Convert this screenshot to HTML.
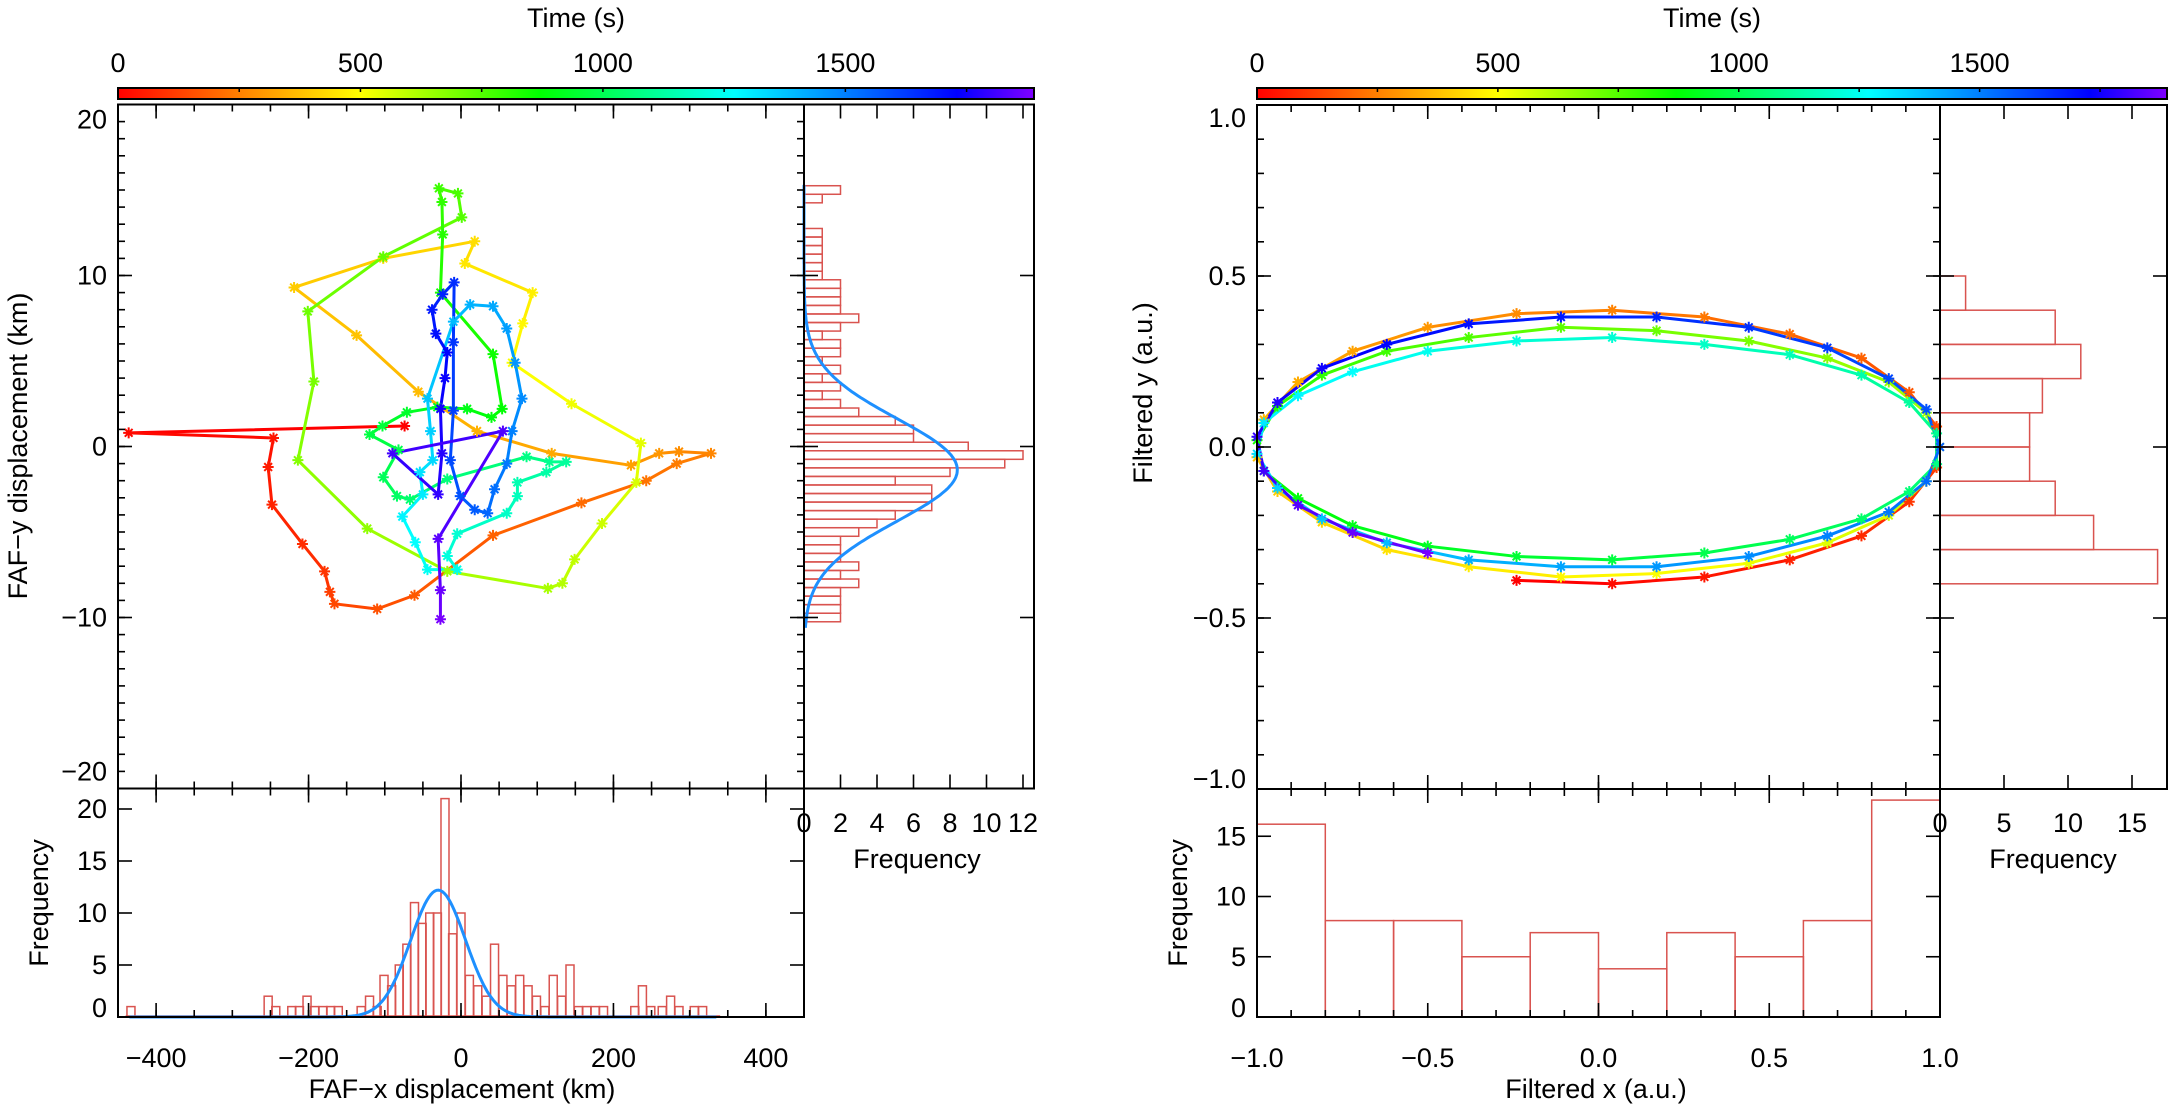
<!DOCTYPE html>
<html><head><meta charset="utf-8"><style>
html,body{margin:0;padding:0;background:#fff;}
svg{display:block;font-family:"Liberation Sans",sans-serif;}
</style></head><body>
<svg id="chart" width="2169" height="1111" viewBox="0 0 2169 1111" xmlns="http://www.w3.org/2000/svg">
<defs>
<linearGradient id="cbgrad" x1="0" x2="1" y1="0" y2="0">
<stop offset="0" stop-color="#ff0000"/><stop offset="0.1323" stop-color="#ff8000"/><stop offset="0.2647" stop-color="#ffff00"/><stop offset="0.4606" stop-color="#00ff00"/><stop offset="0.6723" stop-color="#00ffff"/><stop offset="0.9158" stop-color="#0000ff"/><stop offset="1" stop-color="#8000ff"/>
</linearGradient>
</defs>
<g id="left"></g>
<g id="right"></g>
</svg>
<script>
// ---------- DATA: left panel (FAF displacement trajectory) ----------
const trajX = [-74,-436,-246,-253,-248,-208,-179,-172,-166,-110,-61,42,158,243,283,328,286,260,223,119,21,-56,-137,-219,-102,18,5,94,81,67,145,236,230,185,149,133,114,-18,-123,-214,-193,-201,-102,1,-4,-29,-25,-24,-27,42,54,40,8,-31,-71,-103,-120,-82,-102,-84,-67,-18,86,116,138,112,74,74,60,-5,-18,-5,-44,-60,-77,-50,-54,-37,-40,-44,-10,12,42,60,71,80,67,60,44,35,18,-1,-14,-10,-10,-9,-24,-38,-33,-18,-21,-27,-25,-30,-90,55,-30,-27,-27];
const trajY = [1.2,0.8,0.5,-1.2,-3.4,-5.7,-7.3,-8.5,-9.2,-9.5,-8.7,-5.2,-3.3,-2.0,-1.0,-0.4,-0.3,-0.4,-1.1,-0.4,0.9,3.2,6.5,9.3,11.0,12.0,10.7,9.0,7.2,4.9,2.5,0.2,-2.1,-4.5,-6.6,-8.0,-8.3,-7.3,-4.8,-0.8,3.8,7.9,11.1,13.4,14.8,15.1,14.3,12.4,9.0,5.4,2.2,1.7,2.2,2.3,2.0,1.2,0.7,-0.2,-1.8,-2.9,-3.1,-1.9,-0.6,-0.9,-0.9,-1.5,-2.1,-2.9,-3.9,-5.1,-6.4,-7.2,-7.2,-5.6,-4.1,-2.8,-1.5,-0.8,0.9,2.8,7.3,8.3,8.2,6.9,4.9,2.8,0.9,-1.0,-2.5,-3.9,-3.7,-2.9,-0.8,2.1,6.1,9.6,8.9,8.0,6.6,5.5,4.0,2.2,-0.4,-2.8,-0.4,0.9,-5.4,-8.4,-10.1];
const trajDt = 17.4; // seconds between samples
const xHistCenters = [-433,-253,-243,-222,-212,-202,-192,-181,-171,-161,-131,-120,-110,-101,-91,-81,-71,-61,-51,-41,-31,-21,-11,0,11,22,33,44,55,66,77,88,99,110,121,132,143,154,165,176,187,228,238,249,264,275,286,306,317];
const xHistCounts  = [1,2,1,1,1,2,1,1,1,1,1,2,1,4,3,5,7,11,9,10,10,21,8,10,4,3,2,7,4,3,4,3,2,1,4,2,5,1,1,1,1,1,3,1,1,2,1,1,1];
const xHistWidth = 10.5;
const xFit = [12.2, -30, 36];          // amplitude, mean, sigma
const xFitRange = [-435, 335];
const yHistTop = 15.25, yHistWidth = 0.5;
const yHistCounts = [2,1,0,0,0,1,1,1,1,1,1,2,2,2,2,3,2,1,2,2,1,2,1,2,1,2,3,5,6,6,9,12,11,8,5,7,7,7,5,4,3,2,2,2,3,2,3,2,2,2,2];
const yFit = [8.4, -1.37, 3.0];
const yFitRange = [-10.6, 15.3];
const leftXTicks = [-400,-200,0,200,400];
const leftYTicks = [-20,-10,0,10,20];
const leftFreqTicksB = [0,5,10,15,20];
const leftFreqTicksR = [0,2,4,6,8,10,12];
// ---------- DATA: right panel (filtered ellipse) ----------
const ellX = [-0.24,0.04,0.31,0.56,0.77,0.91,0.99,0.99,0.91,0.77,0.56,0.31,0.04,-0.24,-0.50,-0.72,-0.88,-0.98,-1.00,-0.94,-0.81,-0.62,-0.38,-0.11,0.17,0.44,0.67,0.85,0.96,1.00,0.96,0.85,0.67,0.44,0.17,-0.11,-0.38,-0.62,-0.81,-0.94,-1.00,-0.98,-0.88,-0.72,-0.50,-0.24,0.04,0.31,0.56,0.77,0.91,0.99,0.99,0.91,0.77,0.56,0.31,0.04,-0.24,-0.50,-0.72,-0.88,-0.98,-1.00,-0.94,-0.81,-0.62,-0.38,-0.11,0.17,0.44,0.67,0.85,0.96,1.00,0.96,0.85,0.67,0.44,0.17,-0.11,-0.38,-0.62,-0.81,-0.94,-1.00,-0.98,-0.88,-0.72,-0.50];
const ellY = [-0.39,-0.40,-0.38,-0.33,-0.26,-0.16,-0.06,0.06,0.16,0.26,0.33,0.38,0.40,0.39,0.35,0.28,0.19,0.08,-0.03,-0.13,-0.22,-0.30,-0.35,-0.38,-0.37,-0.34,-0.28,-0.20,-0.10,0.00,0.10,0.19,0.26,0.31,0.34,0.35,0.32,0.28,0.21,0.12,0.02,-0.07,-0.15,-0.23,-0.29,-0.32,-0.33,-0.31,-0.27,-0.21,-0.13,-0.05,0.04,0.13,0.21,0.27,0.30,0.32,0.31,0.28,0.22,0.15,0.07,-0.02,-0.12,-0.21,-0.28,-0.33,-0.35,-0.35,-0.32,-0.26,-0.19,-0.10,0.00,0.11,0.20,0.29,0.35,0.38,0.38,0.36,0.30,0.23,0.13,0.03,-0.07,-0.17,-0.25,-0.31];
const ellDt = 21.1;
const fxBinStart = -1.0, fxBinWidth = 0.2;
const fxCounts = [16,8,8,5,7,4,7,5,8,18];
const fyBinTop = 0.5, fyBinWidth = 0.1;
const fyCounts = [2,9,11,8,7,7,9,12,17];
const rightXTicks = [-1.0,-0.5,0.0,0.5,1.0];
const rightYTicks = [-1.0,-0.5,0.0,0.5,1.0];
const rightFreqTicksB = [0,5,10,15];
const rightFreqTicksR = [0,5,10,15];
const cbTicks = [0,500,1000,1500];
const tMax = 1889;

// ---------- helpers ----------
const NS = 'http://www.w3.org/2000/svg';
function mk(parent, tag, attrs, name){
  const el = document.createElementNS(NS, tag);
  for (const k in attrs) el.setAttribute(k, attrs[k]);
  
  
  parent.appendChild(el);
  return el;
}
function txt(parent, x, y, s, name, opts){
  opts = opts || {};
  const el = mk(parent, 'text', {x:x, y:y, 'font-size': opts.size||27, fill:'#000',
    'text-anchor': opts.anchor||'middle'}, name);
  if (opts.central) el.setAttribute('dominant-baseline','central');
  if (opts.rot) el.setAttribute('transform', 'rotate(-90 '+x+' '+y+')');
  el.textContent = s;
  return el;
}
const cStops = [[0,[255,0,0]],[250,[255,128,0]],[500,[255,255,0]],[870,[0,255,0]],[1270,[0,255,255]],[1730,[0,0,255]],[1889,[128,0,255]]];
function cmap(t){
  for (let i=0;i<cStops.length-1;i++){
    const a=cStops[i], b=cStops[i+1];
    if (t<=b[0]){ const f=(t-a[0])/(b[0]-a[0]);
      const c=a[1].map((v,j)=>Math.round(v+(b[1][j]-v)*f)); return 'rgb('+c.join(',')+')'; }
  }
  return 'rgb(128,0,255)';
}
function fmt(v,dec){ const s=Math.abs(v).toFixed(dec); return (v<0?'\u2212':'')+s; }
function box(g, x0,y0,x1,y1,name){
  mk(g,'rect',{x:x0,y:y0,width:x1-x0,height:y1-y0,fill:'none',stroke:'#000','stroke-width':2},name);
}
function xTicks(g, sx, y0, y1, vals, len, name){
  vals.forEach(v=>{ const x=sx(v);
    mk(g,'line',{x1:x,y1:y1,x2:x,y2:y1-len,stroke:'#000','stroke-width':1.6},name);
    mk(g,'line',{x1:x,y1:y0,x2:x,y2:y0+len,stroke:'#000','stroke-width':1.6},name);
  });
}
function yTicks(g, sy, x0, x1, vals, len, name){
  vals.forEach(v=>{ const y=sy(v);
    mk(g,'line',{x1:x0,y1:y,x2:x0+len,y2:y,stroke:'#000','stroke-width':1.6},name);
    mk(g,'line',{x1:x1,y1:y,x2:x1-len,y2:y,stroke:'#000','stroke-width':1.6},name);
  });
}
function range(a,b,s){ const r=[]; for(let v=a; v<=b+1e-9; v+=s) r.push(Math.round(v*1000)/1000); return r; }
function star(g, x, y, col, name){
  const r=5.5, d=r*0.707;
  mk(g,'path',{d:'M'+(x-r)+' '+y+'H'+(x+r)+'M'+x+' '+(y-r)+'V'+(y+r)+'M'+(x-d)+' '+(y-d)+'L'+(x+d)+' '+(y+d)+'M'+(x-d)+' '+(y+d)+'L'+(x+d)+' '+(y-d),stroke:col,'stroke-width':2,fill:'none'},name);
}
function colorbar(g, x0, x1, centerTitle){
  const sc = t => x0 + t/tMax*(x1-x0);
  txt(g, (x0+x1)/2, 27, 'Time (s)', 'colorbar-title');
  cbTicks.forEach(t=>{ txt(g, sc(t), 72, String(t), 'colorbar-tick-label'); });
  mk(g,'rect',{x:x0,y:88,width:x1-x0,height:11,fill:'url(#cbgrad)',stroke:'#000','stroke-width':2},'colorbar');
  range(250,1750,250).forEach(t=>{ mk(g,'line',{x1:sc(t),y1:88,x2:sc(t),y2:92,stroke:'#000','stroke-width':1.5},'colorbar-tick'); });
}

// ---------- LEFT PANEL ----------
(function(){
  const g = document.getElementById('left');
  const L = {x0:118,x1:804,y0:104.5,y1:788.5};
  const sx = v => L.x0 + (v+450)/900*(L.x1-L.x0);
  const sy = v => 446.5 - v*17.1;
  const bY0=788.5, bY1=1017, sbf = f => bY1 - f*10.4;
  const rX1=1034, srf = f => 804 + f*18.25;
  colorbar(g, 118, 1034);
  // trajectory
  const tg = mk(g,'g',{},'trajectory');
  for (let i=0;i<trajX.length-1;i++){
    const seg = mk(tg,'line',{x1:sx(trajX[i]),y1:sy(trajY[i]),x2:sx(trajX[i+1]),y2:sy(trajY[i+1]),stroke:cmap(i*trajDt),'stroke-width':3,'stroke-linecap':'round'},'trajectory-segment');
  }
  for (let i=0;i<trajX.length;i++) star(tg, sx(trajX[i]), sy(trajY[i]), cmap(i*trajDt), 'trajectory-point');
  // bottom histogram
  const hg = mk(g,'g',{},'x-histogram');
  xHistCenters.forEach((c,i)=>{
    const xa=sx(c-xHistWidth/2), xb=sx(c+xHistWidth/2);
    mk(hg,'rect',{x:xa,y:sbf(xHistCounts[i]),width:xb-xa,height:bY1-sbf(xHistCounts[i]),fill:'none',stroke:'#d9534f','stroke-width':1.5},'x-hist-bar');
  });
  mk(hg,'line',{x1:sx(-440),y1:bY1-1,x2:sx(340),y2:bY1-1,stroke:'#d9534f','stroke-width':1.5},'x-hist-baseline');
  let p='';
  for (let k=0;k<=300;k++){ const v=xFitRange[0]+(xFitRange[1]-xFitRange[0])*k/300;
    const f=xFit[0]*Math.exp(-0.5*Math.pow((v-xFit[1])/xFit[2],2)); p+=(k?'L':'M')+sx(v).toFixed(1)+' '+sbf(f).toFixed(1); }
  mk(hg,'path',{d:p,fill:'none',stroke:'#1e90ff','stroke-width':3},'x-gaussian-fit');
  // right histogram
  const rg = mk(g,'g',{},'y-histogram');
  yHistCounts.forEach((n,i)=>{
    const ya=sy(yHistTop - i*yHistWidth), yb=sy(yHistTop-(i+1)*yHistWidth);
    mk(rg,'rect',{x:804,y:ya,width:srf(n)-804,height:yb-ya,fill:'none',stroke:'#d9534f','stroke-width':1.5},'y-hist-bar');
  });
  p='';
  for (let k=0;k<=300;k++){ const v=yFitRange[0]+(yFitRange[1]-yFitRange[0])*k/300;
    const f=yFit[0]*Math.exp(-0.5*Math.pow((v-yFit[1])/yFit[2],2)); p+=(k?'L':'M')+srf(f).toFixed(1)+' '+sy(v).toFixed(1); }
  mk(rg,'path',{d:p,fill:'none',stroke:'#1e90ff','stroke-width':3},'y-gaussian-fit');
  // boxes and ticks
  box(g,L.x0,L.y0,L.x1,L.y1,'main-plot-frame');
  box(g,804,L.y0,rX1,L.y1,'y-hist-frame');
  box(g,L.x0,bY0,L.x1,bY1,'x-hist-frame');
  xTicks(g,sx,L.y0,L.y1,leftXTicks,14,'x-major-tick');
  xTicks(g,sx,L.y0,L.y1,range(-450,450,50),7,'x-minor-tick');
  yTicks(g,sy,L.x0,L.x1,leftYTicks,14,'y-major-tick');
  yTicks(g,sy,L.x0,L.x1,range(-20,20,1),7,'y-minor-tick');
  xTicks(g,sx,bY0,bY1,leftXTicks,14,'x-major-tick');
  xTicks(g,sx,bY0,bY1,range(-450,450,50),7,'x-minor-tick');
  yTicks(g,sbf,L.x0,L.x1,leftFreqTicksB,14,'freq-tick');
  xTicks(g,srf,L.y0,L.y1,leftFreqTicksR,14,'freq-tick');
  yTicks(g,sy,804,rX1,leftYTicks,14,'y-major-tick');
  // labels
  leftYTicks.forEach(v=>{ let y=Math.min(Math.max(sy(v),L.y0+15),L.y1-17); txt(g,107,y,fmt(v,0),'y-tick-label',{anchor:'end',central:true}); });
  leftFreqTicksB.forEach(v=>{ let y=Math.min(Math.max(sbf(v),bY0+20),bY1-9); txt(g,107,y,String(v),'freq-tick-label',{anchor:'end',central:true}); });
  leftXTicks.forEach(v=>{ txt(g,sx(v),1067,fmt(v,0),'x-tick-label'); });
  leftFreqTicksR.forEach(v=>{ txt(g,srf(v),832,String(v),'freq-tick-label'); });
  txt(g,917,868,'Frequency','y-hist-axis-title');
  txt(g,462,1098,'FAF\u2212x displacement (km)','x-axis-title');
  txt(g,27,446,'FAF\u2212y displacement (km)','y-axis-title',{rot:true});
  txt(g,48,903,'Frequency','x-hist-axis-title',{rot:true});
})();

// ---------- RIGHT PANEL ----------
(function(){
  const g = document.getElementById('right');
  const R = {x0:1257,x1:1940,y0:105,y1:789};
  const sx = v => 1598.5 + v*341.5;
  const sy = v => 447 - v*342;
  const bY0=789, bY1=1017, sbf = f => bY1 - f*12.05;
  const rX1=2167, srf = f => 1940 + f*12.8;
  colorbar(g, 1257, 2167);
  const eg = mk(g,'g',{},'filtered-trajectory');
  for (let i=0;i<ellX.length-1;i++){
    mk(eg,'line',{x1:sx(ellX[i]),y1:sy(ellY[i]),x2:sx(ellX[i+1]),y2:sy(ellY[i+1]),stroke:cmap(i*ellDt),'stroke-width':3,'stroke-linecap':'round'},'filtered-segment');
  }
  for (let i=0;i<ellX.length;i++) star(eg, sx(ellX[i]), sy(ellY[i]), cmap(i*ellDt), 'filtered-point');
  const hg = mk(g,'g',{},'filtered-x-histogram');
  fxCounts.forEach((n,i)=>{
    const xa=sx(fxBinStart+i*fxBinWidth), xb=sx(fxBinStart+(i+1)*fxBinWidth);
    mk(hg,'rect',{x:xa,y:sbf(n),width:xb-xa,height:bY1-sbf(n),fill:'none',stroke:'#d9534f','stroke-width':1.5},'fx-hist-bar');
  });
  const rg = mk(g,'g',{},'filtered-y-histogram');
  fyCounts.forEach((n,i)=>{
    const ya=sy(fyBinTop-i*fyBinWidth), yb=sy(fyBinTop-(i+1)*fyBinWidth);
    mk(rg,'rect',{x:1940,y:ya,width:srf(n)-1940,height:yb-ya,fill:'none',stroke:'#d9534f','stroke-width':1.5},'fy-hist-bar');
  });
  box(g,R.x0,R.y0,R.x1,R.y1,'main-plot-frame');
  box(g,1940,R.y0,rX1,R.y1,'y-hist-frame');
  box(g,R.x0,bY0,R.x1,bY1,'x-hist-frame');
  xTicks(g,sx,R.y0,R.y1,rightXTicks,14,'x-major-tick');
  xTicks(g,sx,R.y0,R.y1,range(-1,1,0.1),7,'x-minor-tick');
  yTicks(g,sy,R.x0,R.x1,rightYTicks,14,'y-major-tick');
  yTicks(g,sy,R.x0,R.x1,range(-1,1,0.1),7,'y-minor-tick');
  xTicks(g,sx,bY0,bY1,rightXTicks,14,'x-major-tick');
  xTicks(g,sx,bY0,bY1,range(-1,1,0.1),7,'x-minor-tick');
  yTicks(g,sbf,R.x0,R.x1,rightFreqTicksB,14,'freq-tick');
  xTicks(g,srf,R.y0,R.y1,rightFreqTicksR,14,'freq-tick');
  yTicks(g,sy,1940,rX1,rightYTicks,14,'y-major-tick');
  rightYTicks.forEach(v=>{ let y=Math.min(Math.max(sy(v),R.y0+13),R.y1-10); txt(g,1246,y,fmt(v,1),'y-tick-label',{anchor:'end',central:true}); });
  rightFreqTicksB.forEach(v=>{ let y=Math.min(Math.max(sbf(v),bY0+20),bY1-9); txt(g,1246,y,String(v),'freq-tick-label',{anchor:'end',central:true}); });
  rightXTicks.forEach(v=>{ txt(g,sx(v),1067,fmt(v,1),'x-tick-label'); });
  rightFreqTicksR.forEach(v=>{ txt(g,srf(v),832,String(v),'freq-tick-label'); });
  txt(g,2053,868,'Frequency','y-hist-axis-title');
  txt(g,1596,1098,'Filtered x (a.u.)','x-axis-title');
  txt(g,1152,393,'Filtered y (a.u.)','y-axis-title',{rot:true});
  txt(g,1187,903,'Frequency','x-hist-axis-title',{rot:true});
})();
</script>
</body></html>
